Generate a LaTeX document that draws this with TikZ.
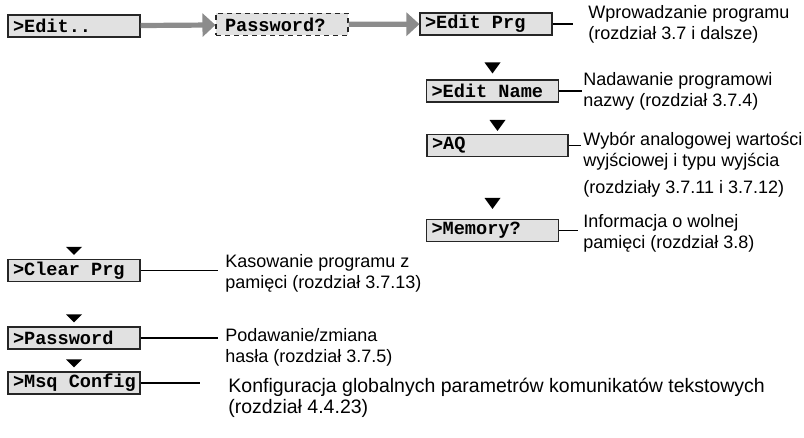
\documentclass[tikz,border=0pt]{standalone}
\usepackage{fontspec}
\setmainfont{Liberation Sans}
\setmonofont{Liberation Mono}
\usetikzlibrary{arrows.meta,calc}
\definecolor{lcdgrey}{HTML}{E1E1E1}
\definecolor{flowgrey}{HTML}{8C8C8C}
\newcommand\lcdsp{\phantom{x}}
\tikzset{
  lcd/.style      = {draw=black!85, line width=0.55pt, fill=lcdgrey, minimum height=11pt,
                     inner ysep=0pt, inner xsep=2.5pt, text width=61pt, align=left,
                     font=\fontsize{9.3}{10}\selectfont\ttfamily\bfseries},
  lcdwide/.style  = {lcd, text width=65.5pt},
  lcdask/.style   = {lcd, dash pattern=on 2.5pt off 2pt, inner xsep=4.5pt, text width=57pt},
  flow/.style     = {draw=flowgrey, line width=2.6pt, -{Triangle[length=6.5pt,width=11.5pt]}},
  link/.style     = {line width=0.7pt},
  note/.style     = {anchor=north west, inner sep=0pt, align=left,
                     font=\fontsize{9}{10.5}\selectfont},
  bignote/.style  = {note, font=\fontsize{9.75}{10.5}\selectfont},
  pics/downtri/.style = {code={\fill (-8,-#1) -- (8,-#1) -- (0,0) -- cycle;}},
}
\begin{document}
\begin{tikzpicture}[x=0.5pt,y=-0.5pt]
  \useasboundingbox (0,0) rectangle (804,438);
  % menu entries
  \node[lcd] (edit) at (74,26) {>Edit..};
  \node[lcdask] (pass) at (282,24.5) {Password?};
  \node[lcd] (prg) at (486,24) {>Edit\lcdsp Prg};
  \node[lcd] (name) at (492.5,91) {>Edit\lcdsp Name};
  \node[lcdwide] (aq) at (497.5,145.5) {>AQ};
  \node[lcd] (mem) at (492.5,230.5) {>Memory?};
  \node[lcd] (clear) at (74,270.5) {>Clear\lcdsp Prg};
  \node[lcd] (pwd) at (74,338) {>Password};
  \node[lcd] (msq) at (74,383) {>Msq\lcdsp Config};
  % scroll marks
  \pic at ($(name.north)+(0,-6)$) {downtri=11};
  \pic at ($(aq.north)+(0,-3)$) {downtri=11};
  \pic at ($(mem.north)+(0,-10)$) {downtri=11};
  \pic at ($(clear.north)+(0,-4)$) {downtri=8};
  \pic at ($(pwd.north)+(0,-4)$) {downtri=8};
  \pic at ($(msq.north)+(0,-4)$) {downtri=8};
  % descriptions
  \node[note] (prgtxt) at (588,5) {Wprowadzanie programu\\(rozdział 3.7 i dalsze)};
  \node[note] (nametxt) at (583,72) {Nadawanie programowi\\nazwy (rozdział 3.7.4)};
  \node[note] (aqtxt) at (583,132) {Wybór analogowej wartości\\wyjściowej i typu wyjścia\\[3pt]
    (rozdziały 3.7.11 i 3.7.12)};
  \node[note] (memtxt) at (583,214) {Informacja o wolnej\\pamięci (rozdział 3.8)};
  \node[note] (cleartxt) at (225,254) {Kasowanie programu z\\pamięci (rozdział 3.7.13)};
  \node[note] (pwdtxt) at (225,328) {Podawanie/zmiana\\hasła (rozdział 3.7.5)};
  \node[bignote] (msqtxt) at (228,378) {Konfiguracja globalnych parametrów komunikatów tekstowych\\
    (rozdział 4.4.23)};
  % flow
  \draw[flow] (edit) -- (pass);
  \draw[flow] (pass) -- (prg);
  % leaders
  \draw[link, shorten >=7.5pt] (prg.east) -- (prg.east -| prgtxt.west);
  \draw[link, shorten >=0.5pt] (name.east) -- (name.east -| nametxt.west);
  \draw[link, shorten >=1pt] (aq.east) -- (aq.east -| aqtxt.west);
  \draw[link, shorten >=2.5pt] (mem.east) -- (mem.east -| memtxt.west);
  \draw[link, shorten >=3.5pt] (clear.east) -- (clear.east -| cleartxt.west);
  \draw[link, shorten >=3.5pt] (pwd.east) -- (pwd.east -| pwdtxt.west);
  \draw[link, shorten >=14pt] (msq.east) -- (msq.east -| msqtxt.west);
\end{tikzpicture}
\end{document}
